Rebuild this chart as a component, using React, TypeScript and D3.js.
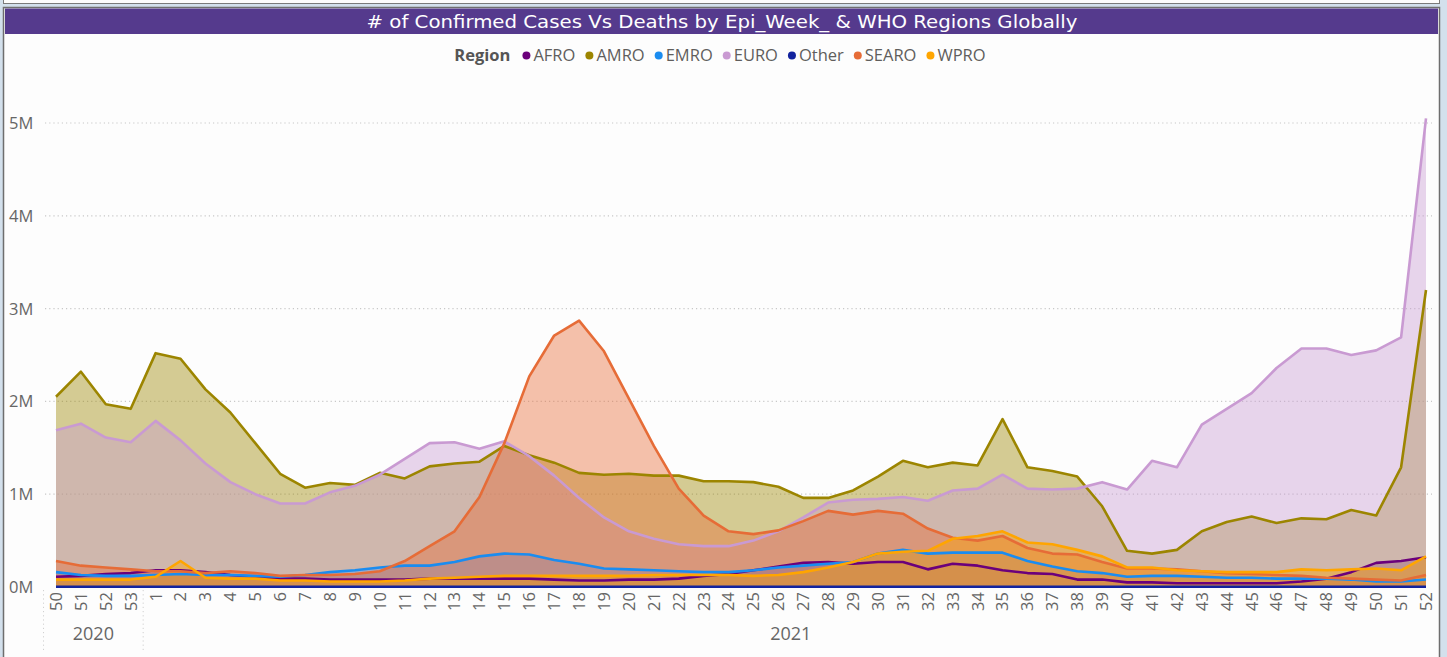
import * as d3 from "d3";
import { useEffect, useRef } from "react";

// epi weeks: 50-53 of 2020, then 1-52 of 2021
const weeks2020 = ["50", "51", "52", "53"];
const weeks2021 = [
  "1", "2", "3", "4", "5", "6", "7", "8", "9", "10", "11", "12", "13", "14", "15", "16", "17", "18",
  "19", "20", "21", "22", "23", "24", "25", "26", "27", "28", "29", "30", "31", "32", "33", "34", "35",
  "36", "37", "38", "39", "40", "41", "42", "43", "44", "45", "46", "47", "48", "49", "50", "51", "52",
];
const yTicks = [0, 1, 2, 3, 4, 5];
const regions = ["AFRO", "AMRO", "EMRO", "EURO", "Other", "SEARO", "WPRO"];
const colors = ["#6B007B", "#9C8500", "#1A8CF0", "#C99AD2", "#12239E", "#E66C37", "#FFA500"];

// weekly confirmed cases, millions
const afro = [
  0.11, 0.12, 0.14, 0.15, 0.18, 0.18, 0.16, 0.13, 0.11, 0.09, 0.09, 0.08, 0.08, 0.08, 0.08, 0.09,
  0.09, 0.09, 0.09, 0.09, 0.08, 0.07, 0.07, 0.08, 0.08, 0.09, 0.12, 0.14, 0.18, 0.22, 0.26, 0.27,
  0.25, 0.27, 0.27, 0.19, 0.25, 0.23, 0.18, 0.15, 0.14, 0.08, 0.08, 0.05, 0.05, 0.04, 0.04, 0.04,
  0.04, 0.04, 0.06, 0.09, 0.16, 0.26, 0.28, 0.32,
];
const amro = [
  2.05, 2.32, 1.97, 1.92, 2.52, 2.46, 2.13, 1.88, 1.55, 1.22, 1.07, 1.12, 1.10, 1.23, 1.17, 1.30,
  1.33, 1.35, 1.52, 1.42, 1.34, 1.23, 1.21, 1.22, 1.20, 1.20, 1.14, 1.14, 1.13, 1.08, 0.96, 0.96,
  1.04, 1.19, 1.36, 1.29, 1.34, 1.31, 1.81, 1.29, 1.25, 1.19, 0.87, 0.39, 0.36, 0.40, 0.60, 0.70,
  0.76, 0.69, 0.74, 0.73, 0.83, 0.77, 1.29, 3.20,
];
const emro = [
  0.16, 0.13, 0.12, 0.12, 0.13, 0.14, 0.13, 0.13, 0.12, 0.11, 0.13, 0.16, 0.18, 0.21, 0.23, 0.23,
  0.27, 0.33, 0.36, 0.35, 0.29, 0.25, 0.20, 0.19, 0.18, 0.17, 0.16, 0.16, 0.18, 0.21, 0.23, 0.25,
  0.27, 0.36, 0.40, 0.36, 0.37, 0.37, 0.37, 0.28, 0.22, 0.17, 0.15, 0.11, 0.12, 0.12, 0.11, 0.10,
  0.10, 0.09, 0.09, 0.09, 0.08, 0.06, 0.06, 0.08,
];
const euro = [
  1.69, 1.76, 1.61, 1.56, 1.79, 1.58, 1.33, 1.13, 1.00, 0.90, 0.90, 1.02, 1.09, 1.21, 1.38, 1.55,
  1.56, 1.49, 1.57, 1.41, 1.20, 0.96, 0.75, 0.60, 0.52, 0.46, 0.44, 0.44, 0.50, 0.60, 0.75, 0.91,
  0.94, 0.95, 0.97, 0.93, 1.04, 1.06, 1.21, 1.06, 1.05, 1.06, 1.13, 1.05, 1.36, 1.29, 1.75, 1.92,
  2.09, 2.36, 2.57, 2.57, 2.50, 2.55, 2.69, 5.05,
];
const other = [
  0.003, 0.003, 0.003, 0.003, 0.003, 0.003, 0.003, 0.003, 0.003, 0.003, 0.003, 0.003, 0.003, 0.003,
  0.003, 0.003, 0.003, 0.003, 0.003, 0.003, 0.003, 0.003, 0.003, 0.003, 0.003, 0.003, 0.003, 0.003,
  0.003, 0.003, 0.003, 0.003, 0.003, 0.003, 0.003, 0.003, 0.003, 0.003, 0.003, 0.003, 0.003, 0.003,
  0.003, 0.003, 0.003, 0.003, 0.003, 0.003, 0.003, 0.003, 0.003, 0.003, 0.003, 0.003, 0.003, 0.003,
];
const searo = [
  0.28, 0.23, 0.21, 0.19, 0.17, 0.17, 0.15, 0.17, 0.15, 0.12, 0.13, 0.13, 0.14, 0.17, 0.28, 0.44,
  0.60, 0.97, 1.55, 2.27, 2.71, 2.87, 2.54, 2.03, 1.52, 1.06, 0.77, 0.60, 0.57, 0.61, 0.71, 0.82,
  0.78, 0.82, 0.79, 0.63, 0.53, 0.50, 0.55, 0.42, 0.36, 0.35, 0.27, 0.20, 0.20, 0.19, 0.17, 0.15,
  0.14, 0.13, 0.12, 0.10, 0.09, 0.08, 0.07, 0.13,
];
const wpro = [
  0.08, 0.08, 0.08, 0.08, 0.11, 0.28, 0.10, 0.09, 0.09, 0.07, 0.07, 0.06, 0.06, 0.06, 0.07, 0.09,
  0.10, 0.11, 0.12, 0.12, 0.12, 0.12, 0.12, 0.12, 0.13, 0.13, 0.13, 0.13, 0.12, 0.13, 0.16, 0.21,
  0.27, 0.36, 0.38, 0.39, 0.52, 0.55, 0.60, 0.48, 0.46, 0.40, 0.33, 0.21, 0.21, 0.18, 0.17, 0.16,
  0.16, 0.16, 0.19, 0.18, 0.19, 0.20, 0.18, 0.33,
];
const seriesValues = [afro, amro, emro, euro, other, searo, wpro];

const App = () => {
  const ref = useRef(null);

  useEffect(() => {
    document.body.style.margin = "0";
    bakePlot();
  }, []);

  const bakePlot = () => {
    const W = 1447, H = 657;
    const font = "'Open Sans', 'Noto Sans', sans-serif";
    const keys = [...weeks2020.map(w => "2020-" + w), ...weeks2021.map(w => "2021-" + w)];
    const labelOf = (k) => k.split("-")[1];

    d3.select(ref.current).selectAll("*").remove();
    const svg = d3.select(ref.current)
      .append("svg")
      .attr("width", W)
      .attr("height", H)
      .style("display", "block");

    // frame
    svg.append("rect").attr("width", W).attr("height", H).attr("fill", "#D3E0EC");
    svg.append("rect").attr("x", 3.5).attr("y", -10).attr("width", 1436).attr("height", 13.5)
      .attr("fill", "#FCFCFC").attr("stroke", "#7A7A7A");
    svg.append("rect").attr("x", 3.5).attr("y", 7.5).attr("width", 1436).attr("height", 660)
      .attr("fill", "#FDFDFD").attr("stroke", "#6E6E6E").attr("stroke-width", 1.5);
    svg.append("rect").attr("x", 5).attr("y", 8.5).attr("width", 1433).attr("height", 25.5)
      .attr("fill", "#553A8D");
    svg.append("text")
      .attr("x", 722).attr("y", 28)
      .attr("text-anchor", "middle")
      .attr("fill", "#FFFFFF")
      .attr("font-family", "'DejaVu Sans Condensed', 'Liberation Sans Narrow', sans-serif")
      .attr("font-size", 17)
      .attr("textLength", 711)
      .attr("lengthAdjust", "spacingAndGlyphs")
      .text("# of Confirmed Cases Vs Deaths by Epi_Week_ & WHO Regions Globally");

    // legend
    const leg = svg.append("g").attr("font-family", font).attr("font-size", 16.5);
    const regionText = leg.append("text").attr("x", 0).attr("y", 61)
      .attr("font-weight", "bold").attr("fill", "#555555").text("Region");
    let cx = regionText.node().getComputedTextLength() + 16;
    regions.forEach((r, i) => {
      leg.append("circle").attr("cx", cx).attr("cy", 55.5).attr("r", 4).attr("fill", colors[i]);
      const t = leg.append("text").attr("x", cx + 7).attr("y", 61).attr("fill", "#605E5C").text(r);
      cx += 7 + t.node().getComputedTextLength() + 14;
    });
    const legW = cx - 14;
    leg.attr("transform", `translate(${720 - legW / 2},0)`);

    const x = d3.scalePoint().domain(keys).range([56, 1426]);
    const y = d3.scaleLinear().domain([0, 5]).range([587, 123]);

    // gridlines + y labels
    const grid = svg.append("g");
    grid.selectAll("line").data(yTicks.filter(d => d > 0)).enter().append("line")
      .attr("x1", 45).attr("x2", 1432)
      .attr("y1", d => y(d)).attr("y2", d => y(d))
      .attr("stroke", "#C8C8C8").attr("stroke-width", 1.2).attr("stroke-dasharray", "1.2,3");
    svg.append("g")
      .attr("font-family", font).attr("font-size", 16.5).attr("fill", "#666666")
      .selectAll("text").data(yTicks).enter().append("text")
      .attr("x", 9).attr("y", d => y(d)).attr("dy", "0.36em")
      .text(d => d + "M");

    // areas then lines
    const area = d3.area()
      .x((d, i) => x(keys[i]))
      .y0(y(0))
      .y1(d => y(d));
    const line = d3.line()
      .x((d, i) => x(keys[i]))
      .y(d => y(d));

    svg.append("g").selectAll("path").data(seriesValues).enter().append("path")
      .attr("d", d => area(d))
      .attr("fill", (d, i) => colors[i])
      .attr("fill-opacity", 0.42);
    svg.append("g").selectAll("path").data(seriesValues).enter().append("path")
      .attr("d", d => line(d))
      .attr("fill", "none")
      .attr("stroke", (d, i) => colors[i])
      .attr("stroke-width", 2.6)
      .attr("stroke-linejoin", "round");

    // x labels
    svg.append("g")
      .attr("font-family", font).attr("font-size", 16.5).attr("fill", "#666666")
      .selectAll("text").data(keys).enter().append("text")
      .attr("transform", d => `translate(${x(d)},592) rotate(-90)`)
      .attr("text-anchor", "end")
      .attr("dy", "0.36em")
      .text(d => labelOf(d));

    // year bands
    const step = x.step();
    const sepXs = [x(keys[0]) - step / 2, x(keys[weeks2020.length]) - step / 2];
    svg.append("g").selectAll("line").data(sepXs).enter().append("line")
      .attr("x1", d => d).attr("x2", d => d)
      .attr("y1", 590).attr("y2", 650)
      .attr("stroke", "#D0D0D0").attr("stroke-dasharray", "1.2,3");
    const years = [
      { label: "2020", cx: (x(keys[0]) + x(keys[weeks2020.length - 1])) / 2 },
      { label: "2021", cx: (x(keys[weeks2020.length]) + x(keys[keys.length - 1])) / 2 },
    ];
    svg.append("g")
      .attr("font-family", font).attr("font-size", 18).attr("fill", "#666666")
      .selectAll("text").data(years).enter().append("text")
      .attr("x", d => d.cx).attr("y", 640)
      .attr("text-anchor", "middle")
      .text(d => d.label);
  };

  return <div ref={ref}></div>;
};

export default App;
